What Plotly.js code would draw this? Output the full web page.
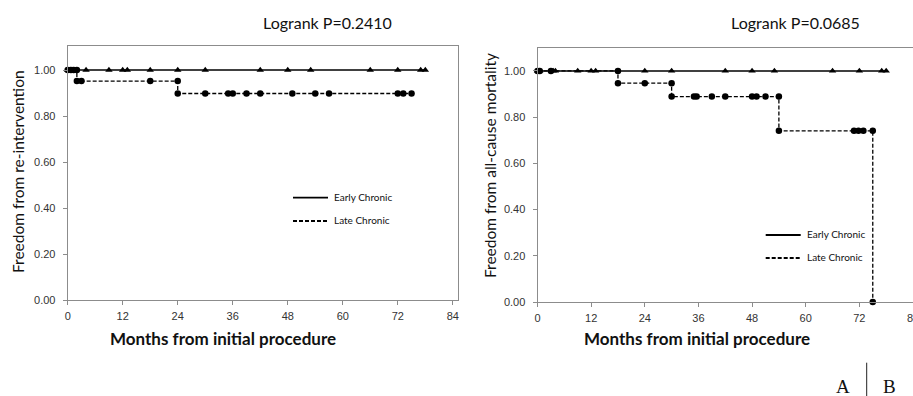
<!DOCTYPE html>
<html>
<head>
<meta charset="utf-8">
<script src="https://cdn.plot.ly/plotly-3.0.1.min.js"></script>
<style>html,body{margin:0;padding:0;background:#fff;overflow:hidden;}#chart{width:913px;height:396px;}</style>
</head>
<body>
<div id="chart"></div>
<script>
// ---- Data ----
// Panel A: freedom from re-intervention
const earlyA_months = [0, 0.5, 1, 4, 9, 12, 13, 18, 24, 30, 42, 48, 53, 66, 72, 77, 78];
const earlyA_surv   = [1, 1, 1, 1, 1, 1, 1, 1, 1, 1, 1, 1, 1, 1, 1, 1, 1];
const lateA_months  = [0, 0.7, 1.3, 2, 2, 3, 18, 24, 24, 30, 35, 36, 39, 42, 49, 54, 57, 72, 73.2, 75];
const lateA_surv    = [1, 1, 1, 1, 0.952, 0.952, 0.952, 0.952, 0.898, 0.898, 0.898, 0.898, 0.898, 0.898, 0.898, 0.898, 0.898, 0.898, 0.898, 0.898];
// Panel B: freedom from all-cause mortality
const earlyB_months = [0, 0.5, 3.5, 4, 9, 12, 13, 24, 30, 42, 48, 53, 66, 72, 77, 78];
const earlyB_surv   = [1, 1, 1, 1, 1, 1, 1, 1, 1, 1, 1, 1, 1, 1, 1, 1];
const lateB_months  = [0, 0.5, 3, 18, 18, 24, 30, 30, 35, 35.6, 39, 42, 48, 49, 51, 54, 54, 70.8, 71.8, 72.9, 75, 75];
const lateB_surv    = [1, 1, 1, 1, 0.947, 0.947, 0.947, 0.889, 0.889, 0.889, 0.889, 0.889, 0.889, 0.889, 0.889, 0.889, 0.741, 0.741, 0.741, 0.741, 0.741, 0];
const seriesNames = ["Early Chronic", "Late Chronic"];
const pValues = ["Logrank P=0.2410", "Logrank P=0.0685"];
const yTitles = ["Freedom from re-intervention", "Freedom from all-cause mortality"];
const xTitle = "Months from initial procedure";
const xTicks = [0, 12, 24, 36, 48, 60, 72, 84];
const yTicks = [0, 0.2, 0.4, 0.6, 0.8, 1.0];
const panelLabels = ["A", "B"];

// ---- Layout helpers (pixel -> paper) ----
const W = 913, H = 396;
const px = x => x / W;
const py = y => 1 - y / H;

const earlyStyle = {mode: 'lines+markers', line: {color: '#000', width: 1.5}, marker: {symbol: 'triangle-up', size: 6.5, color: '#000'}, cliponaxis: false};
const lateStyle  = {mode: 'lines+markers', line: {color: '#000', width: 1.3, dash: '4px,2px'}, marker: {symbol: 'circle', size: 6.5, color: '#000'}, cliponaxis: false};

const traces = [
  Object.assign({x: earlyA_months, y: earlyA_surv, name: seriesNames[0], xaxis: 'x', yaxis: 'y'}, earlyStyle),
  Object.assign({x: lateA_months, y: lateA_surv, name: seriesNames[1], xaxis: 'x', yaxis: 'y'}, lateStyle),
  Object.assign({x: earlyB_months, y: earlyB_surv, name: seriesNames[0], xaxis: 'x2', yaxis: 'y2'}, earlyStyle),
  Object.assign({x: lateB_months, y: lateB_surv, name: seriesNames[1], xaxis: 'x2', yaxis: 'y2'}, lateStyle)
];

const tickFont = {family: 'Liberation Sans, Arial, sans-serif', size: 11, color: '#333'};
const axCommon = {showgrid: false, zeroline: false, showline: true, linecolor: '#8c8c8c', linewidth: 1,
  ticks: 'outside', ticklen: 4, tickcolor: '#8c8c8c', tickfont: tickFont, fixedrange: true};
const xCommon = Object.assign({}, axCommon, {tickvals: xTicks, ticklabelstandoff: 2, ticklabeloverflow: 'allow'});
const yCommon = Object.assign({}, axCommon, {tickvals: yTicks, tickformat: '.2f', ticklabelstandoff: 5});

const layout = {
  width: W, height: H, margin: {l: 0, r: 0, t: 0, b: 0}, paper_bgcolor: '#fff', plot_bgcolor: '#fff',
  showlegend: false,
  xaxis: Object.assign({}, xCommon, {domain: [px(67.7), px(458.3)], range: [0, 85.2], mirror: true, anchor: 'y'}),
  yaxis: Object.assign({}, yCommon, {domain: [py(300), py(45.7)], range: [0, 1.106], mirror: true, anchor: 'x'}),
  xaxis2: Object.assign({}, xCommon, {domain: [px(537.5), 1], range: [0, 84], mirror: true, anchor: 'y2'}),
  yaxis2: Object.assign({}, yCommon, {domain: [py(302), py(48.3)], range: [0, 1.098], mirror: false, anchor: 'x2'}),
  annotations: [],
  shapes: []
};

const txtFont = 'Lato, Open Sans, sans-serif';
function ann(text, x, y, opts) {
  layout.annotations.push(Object.assign({text: text, x: px(x), y: py(y), xref: 'paper', yref: 'paper', showarrow: false,
    xanchor: 'center', yanchor: 'middle', font: {family: txtFont, size: 15, color: '#111'}}, opts || {}));
}
// titles
ann(pValues[0], 327, 23, {font: {family: txtFont, size: 16, color: '#111'}});
ann(pValues[1], 795, 23, {font: {family: txtFont, size: 16, color: '#111'}});
// y titles
ann(yTitles[0], 18, 172, {textangle: -90, font: {family: txtFont, size: 15.5, color: '#111'}});
ann(yTitles[1], 490, 166, {textangle: -90, font: {family: txtFont, size: 15.5, color: '#111'}});
// x titles
ann('<b>' + xTitle + '</b>', 223, 338, {font: {family: txtFont, size: 17, color: '#111'}});
ann('<b>' + xTitle + '</b>', 697, 338, {font: {family: txtFont, size: 17, color: '#111'}});
// legends
function legend(x0, x1, y1, y2) {
  layout.shapes.push({type: 'line', xref: 'paper', yref: 'paper', x0: px(x0), x1: px(x1), y0: py(y1), y1: py(y1), line: {color: '#000', width: 1.8}});
  layout.shapes.push({type: 'line', xref: 'paper', yref: 'paper', x0: px(x0), x1: px(x1), y0: py(y2), y1: py(y2), line: {color: '#000', width: 1.8, dash: '4px,2px'}});
  ann(seriesNames[0], x1 + 4, y1 - 1, {xanchor: 'left', font: {family: txtFont, size: 10, color: '#111'}});
  ann(seriesNames[1], x1 + 4, y2 - 1, {xanchor: 'left', font: {family: txtFont, size: 10, color: '#111'}});
}
legend(293, 328, 197.7, 221);
legend(765.7, 800.7, 235, 258);
// panel labels
ann(panelLabels[0], 843, 386, {font: {family: 'Liberation Serif, DejaVu Serif, serif', size: 19, color: '#111'}});
ann(panelLabels[1], 889, 386, {font: {family: 'Liberation Serif, DejaVu Serif, serif', size: 19, color: '#111'}});
layout.shapes.push({type: 'line', xref: 'paper', yref: 'paper', x0: px(866.7), x1: px(866.7), y0: py(362.7), y1: 0, line: {color: '#222', width: 1}});

Plotly.newPlot('chart', traces, layout, {staticPlot: true, displayModeBar: false});
</script>
</body>
</html>
